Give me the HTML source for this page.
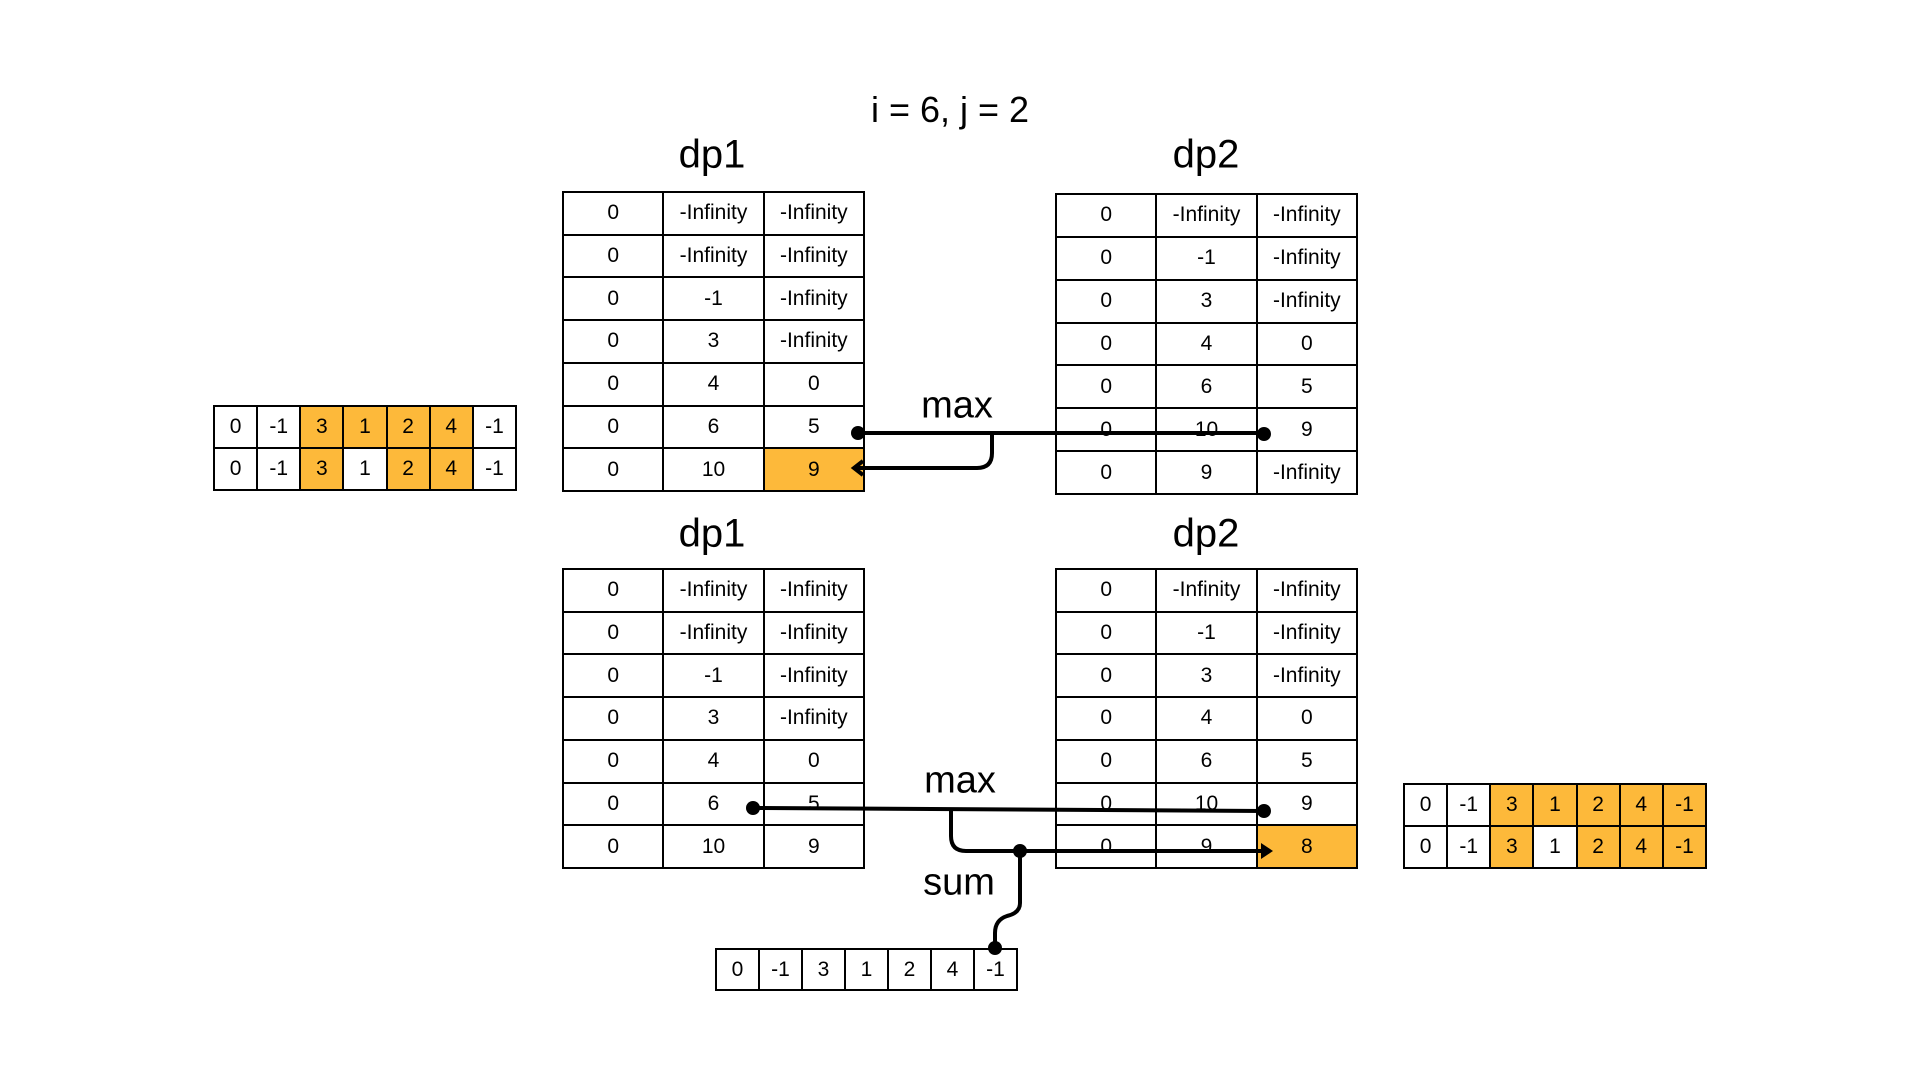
<!DOCTYPE html>
<html><head><meta charset="utf-8"><style>
body{margin:0;width:1920px;height:1080px;background:#fff;position:relative;overflow:hidden;font-family:"Liberation Sans","NanumGothic",sans-serif;}
#w{position:absolute;left:-3px;top:-2px;width:1920px;height:1080px;}
.t{position:absolute;border-collapse:collapse;table-layout:fixed;}
.t td{border:2px solid #000;text-align:center;padding:0;font-size:21px;color:#000;}
.o{background:#FDB93A;}
.lbl{position:absolute;transform:translate(-50%,-50%);white-space:nowrap;color:#000;}
svg{position:absolute;left:0;top:0;}
</style></head><body><div id="w">
<div class="lbl" style="left:953px;top:112px;font-size:36px">i = 6, j = 2</div>
<div class="lbl" style="left:715px;top:157px;font-size:40px">dp1</div>
<div class="lbl" style="left:1209px;top:157px;font-size:40px">dp2</div>
<div class="lbl" style="left:715px;top:536px;font-size:40px">dp1</div>
<div class="lbl" style="left:1209px;top:536px;font-size:40px">dp2</div>
<div class="lbl" style="left:960px;top:408px;font-size:38px">max</div>
<div class="lbl" style="left:963px;top:783px;font-size:38px">max</div>
<div class="lbl" style="left:962px;top:885px;font-size:38px">sum</div>

<table class="t" style="left:565px;top:193px;width:303px;height:301px">
<tr><td>0</td><td>-Infinity</td><td>-Infinity</td></tr>
<tr><td>0</td><td>-Infinity</td><td>-Infinity</td></tr>
<tr><td>0</td><td>-1</td><td>-Infinity</td></tr>
<tr><td>0</td><td>3</td><td>-Infinity</td></tr>
<tr><td>0</td><td>4</td><td>0</td></tr>
<tr><td>0</td><td>6</td><td>5</td></tr>
<tr><td>0</td><td>10</td><td class="o">9</td></tr>
</table>
<table class="t" style="left:1058px;top:195px;width:303px;height:302px">
<tr><td>0</td><td>-Infinity</td><td>-Infinity</td></tr>
<tr><td>0</td><td>-1</td><td>-Infinity</td></tr>
<tr><td>0</td><td>3</td><td>-Infinity</td></tr>
<tr><td>0</td><td>4</td><td>0</td></tr>
<tr><td>0</td><td>6</td><td>5</td></tr>
<tr><td>0</td><td>10</td><td>9</td></tr>
<tr><td>0</td><td>9</td><td>-Infinity</td></tr>
</table>
<table class="t" style="left:565px;top:570px;width:303px;height:301px">
<tr><td>0</td><td>-Infinity</td><td>-Infinity</td></tr>
<tr><td>0</td><td>-Infinity</td><td>-Infinity</td></tr>
<tr><td>0</td><td>-1</td><td>-Infinity</td></tr>
<tr><td>0</td><td>3</td><td>-Infinity</td></tr>
<tr><td>0</td><td>4</td><td>0</td></tr>
<tr><td>0</td><td>6</td><td>5</td></tr>
<tr><td>0</td><td>10</td><td>9</td></tr>
</table>
<table class="t" style="left:1058px;top:570px;width:303px;height:301px">
<tr><td>0</td><td>-Infinity</td><td>-Infinity</td></tr>
<tr><td>0</td><td>-1</td><td>-Infinity</td></tr>
<tr><td>0</td><td>3</td><td>-Infinity</td></tr>
<tr><td>0</td><td>4</td><td>0</td></tr>
<tr><td>0</td><td>6</td><td>5</td></tr>
<tr><td>0</td><td>10</td><td>9</td></tr>
<tr><td>0</td><td>9</td><td class="o">8</td></tr>
</table>

<table class="t" style="left:216px;top:407px;width:304px;height:86px">
<tr><td>0</td><td>-1</td><td class="o">3</td><td class="o">1</td><td class="o">2</td><td class="o">4</td><td>-1</td></tr>
<tr><td>0</td><td>-1</td><td class="o">3</td><td>1</td><td class="o">2</td><td class="o">4</td><td>-1</td></tr>
</table>
<table class="t" style="left:1406px;top:785px;width:304px;height:86px">
<tr><td>0</td><td>-1</td><td class="o">3</td><td class="o">1</td><td class="o">2</td><td class="o">4</td><td class="o">-1</td></tr>
<tr><td>0</td><td>-1</td><td class="o">3</td><td>1</td><td class="o">2</td><td class="o">4</td><td class="o">-1</td></tr>
</table>
<table class="t" style="left:718px;top:950px;width:303px;height:43px">
<tr><td>0</td><td>-1</td><td>3</td><td>1</td><td>2</td><td>4</td><td>-1</td></tr>
</table>

<svg width="1920" height="1080" viewBox="0 0 1920 1080">
<g fill="none" stroke="#000" stroke-width="4">
<path d="M859 435 H1267"/>
<path d="M995 435 V455 Q995 470 980 470 H858"/>
<path d="M866 463 L857 470 L866 477"/>
<path d="M756 810 L1267 813"/>
<path d="M954 811 V838 Q954 853 969 853 H1270"/>
<path d="M1023 853 V905 Q1023 915 1010 918 Q998 922 998 935 V950"/>
</g>
<polygon points="1264,845 1276,853 1264,861" fill="#000"/>
<g fill="#000">
<circle cx="861" cy="435" r="7"/>
<circle cx="1267" cy="436" r="7"/>
<circle cx="756" cy="810" r="7"/>
<circle cx="1267" cy="813" r="7"/>
<circle cx="1023" cy="853" r="7"/>
<circle cx="998" cy="950" r="7"/>
</g>
</svg>
</div></body></html>
